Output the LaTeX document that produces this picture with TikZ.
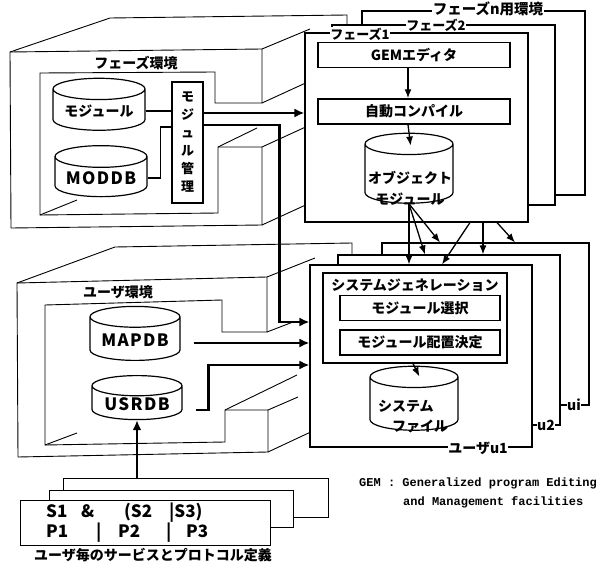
\documentclass[tikz,border=0pt]{standalone}
\usepackage{fontspec}
\setmainfont{Noto Sans CJK JP}
\newfontfamily\notefont{Liberation Mono}
\usetikzlibrary{arrows.meta,positioning,shapes.geometric}
\newcommand{\jp}{\fontsize{14}{17}\selectfont\bfseries}
\newcommand{\wide}{\fontsize{17}{20}\selectfont\addfontfeature{LetterSpace=8}}

\begin{document}
\begin{tikzpicture}[x=1pt, y=-1pt, >=Latex, node distance=8pt,
  every node/.style={font=\jp, inner sep=1pt},
  wall/.style={line width=0.9pt},
  panel/.style={draw, fill=white, line width=1.1pt},
  tag/.style={fill=white, inner sep=0.5pt},
  box/.style={draw, line width=1.5pt, minimum width=192pt, minimum height=25pt},
  db/.style={draw, fill=white, cylinder, shape border rotate=90, aspect=0.3, line width=1.2pt},
  flow/.style={line width=2.6pt, -{Latex[length=10pt,width=9pt]}},
  feed/.style={line width=1.3pt, -{Latex[length=9pt,width=7pt]}}]
\useasboundingbox (0,0) rectangle (598,562);

% phase environment (open box)
\draw[wall] (10,52) -- (110,18) -- (347,15) -- (347,30);
\draw[wall] (10,52) -- (262,49) -- (262,103) -- (215,103) -- (215,72) -- (40,73) -- (40,215)
  -- (218,213) -- (218,147) -- (262,147) -- (262,225) -- (11,228) -- cycle;
\draw[wall] (262,49) -- (310,29);
\draw[wall] (262,103) -- (310,81);
\draw[wall] (262,147) -- (310,125);
\draw[wall] (262,225) -- (310,203);
\draw[wall] (218,147) -- (257,128);
\draw[wall] (40,215) -- (77,200);
\node (phaseenv) at (136,63) {フェーズ環境};

% user environment (open box)
\draw[wall] (17,283) -- (115,247) -- (352,243) -- (352,258);
\draw[wall] (17,283) -- (267,277) -- (267,332) -- (222,332) -- (222,300) -- (45,305) -- (45,445)
  -- (225,442) -- (225,410) -- (268,410) -- (268,452) -- (18,457) -- cycle;
\draw[wall] (267,277) -- (315,258);
\draw[wall] (267,332) -- (293,322);
\draw[wall] (225,410) -- (297,375);
\draw[wall] (268,410) -- (298,397);
\draw[wall] (268,452) -- (315,430);
\draw[wall] (45,445) -- (77,433);
\node (userenv) at (118,292) {ユーザ環境};

% phases
\node[panel, minimum width=223, minimum height=184] (phn) at (473.5,103) {};
\node[panel, minimum width=223, minimum height=180] (ph2) at (443.5,115) {};
\node[panel, minimum width=223, minimum height=189] (ph1) at (416.5,127.5) {};
\node[tag, font=\fontsize{14.5}{16}\selectfont\bfseries] (phnlbl) at (488,9) {フェーズn用環境};
\node[tag, font=\fontsize{13}{15}\selectfont\bfseries] (ph2lbl) at (436,25) {フェーズ2};
\node[tag, font=\fontsize{13}{15}\selectfont\bfseries] (ph1lbl) at (360,34) {フェーズ1};

\node[box] (gem) at (414,55) {GEMエディタ};
\node[box, below=30pt of gem] (comp) {自動コンパイル};
\node[db, minimum width=88, minimum height=70] (obj) at (409,175) {\phantom{モジュール}};
\node[align=center, font=\fontsize{14}{21}\selectfont\bfseries] (objtext) at (410,188) {オブジェクト\\モジュール};

% users
\node[panel, minimum width=207, minimum height=162] (ui) at (485.5,324) {};
\node[panel, minimum width=222, minimum height=170] (u2) at (449,340) {};
\node[panel, minimum width=222, minimum height=182] (u1) at (421,356) {};
\node[tag] (uilbl) at (574,405) {ui};
\node[tag] (u2lbl) at (546,425) {u2};
\node[tag] (u1lbl) at (478,448) {ユーザu1};

\node[draw, line width=1.3pt, minimum width=184, minimum height=90] (sysgen) at (415,318) {};
\node[below=5pt of sysgen.north] (gentitle) {システムジェネレーション};
\node[box, minimum width=160] (sel) at (420,308) {モジュール選択};
\node[box, minimum width=160, below=8pt of sel] (place) {モジュール配置決定};
\node[db, minimum width=88, minimum height=64] (sysfile) at (414,405) {\phantom{モジュール}};
\node[align=left, font=\fontsize{14}{20}\selectfont\bfseries] (filetext) at (413,417) {システム\\\hspace*{14pt}ファイル};

% phase environment contents
\node[db, minimum width=92, minimum height=52] (mod) at (99,111) {モジュール};
\node[db, minimum width=92, minimum height=51] (moddb) at (101,178) {\wide MODDB};
\node[draw, line width=1.3pt, minimum width=31, minimum height=121, align=center,
  font=\fontsize{13}{18}\selectfont\bfseries] (modmgr) at (187.5,142.5) {モ\\ジ\\ュ\\ル\\管\\理};

% user environment contents
\node[db, minimum width=90, minimum height=54] (mapdb) at (135,340) {\wide MAPDB};
\node[db, minimum width=90, minimum height=44] (usrdb) at (137,404) {\wide USRDB};

% service / protocol definitions
\node[panel, line width=1pt, minimum width=265, minimum height=39] (spec3) at (195.5,497.5) {};
\node[panel, line width=1pt, minimum width=244, minimum height=37] (spec2) at (171,508.5) {};
\node[panel, line width=1pt, minimum width=250, minimum height=45] (spec) at (145,522.5) {};
\node[anchor=west, align=left, font=\fontsize{17}{20}\selectfont\bfseries] (rules) at (45,523)
  {\makebox[35pt][l]{S1}\makebox[43pt][l]{\&}\makebox[45pt][l]{(S2}|S3)\\
   \makebox[50pt][l]{P1}\makebox[22pt][l]{|}\makebox[48pt][l]{P2}\makebox[20pt][l]{|}P3};
\node (caption) at (153,555) {ユーザ毎のサービスとプロトコル定義};

\node[anchor=west, font=\notefont\bfseries\fontsize{12}{14}\selectfont] (note1) at (358,483) {GEM : Generalized program Editing};
\node[anchor=west, font=\notefont\bfseries\fontsize{12}{14}\selectfont] (note2) at (402,502) {and Management facilities};

% connectors
\draw[feed] ([xshift=-6pt]gem.south) -- ([xshift=-6pt]comp.north);
\draw[feed, shorten >=-13pt] ([xshift=-6pt]comp.south) -- (obj.north);
\draw[feed, shorten >=-12pt] ([xshift=-2pt]sysgen.south) -- (sysfile.north);

\draw[line width=1.2pt] (mod.east) -- (mod.east -| modmgr.west);
\draw[line width=1.2pt] (moddb.east) -- ++(13,0) |- ([yshift=15.5pt]modmgr.west);
\draw[flow] ([yshift=29.5pt]modmgr.east) -- ([yshift=29.5pt]modmgr.east -| ph1.west);
\draw[flow] ([yshift=17.5pt]modmgr.east) -- ++(76,0) |- ([yshift=34pt]u1.west);
\draw[flow, shorten <=13pt] ([yshift=-3pt]mapdb.east) -- ([yshift=-3pt]mapdb.east -| u1.west);
\draw[flow, shorten <=13pt] ([yshift=-6pt]usrdb.east) -- ++(26,0) |- ([yshift=-9pt]u1.west);
\draw[flow] (usrdb.south |- spec3.north) -- (usrdb.south);

\draw[feed] (obj.south) -- (obj.south |- u1.north);
\draw[feed] (obj.south) -- ([xshift=-24pt]u2.north);
\draw[feed] (obj.south) -- ([xshift=-45.5pt]ui.north);
\draw[feed] ([xshift=53.5pt]ph1.south) -- ([xshift=21pt]u1.north);
\draw[feed] ([xshift=66.5pt]ph1.south) -- ([xshift=34pt]u2.north);
\draw[feed] ([xshift=80.5pt]ph1.south) -- ([xshift=29.5pt]ui.north);
\end{tikzpicture}
\end{document}
